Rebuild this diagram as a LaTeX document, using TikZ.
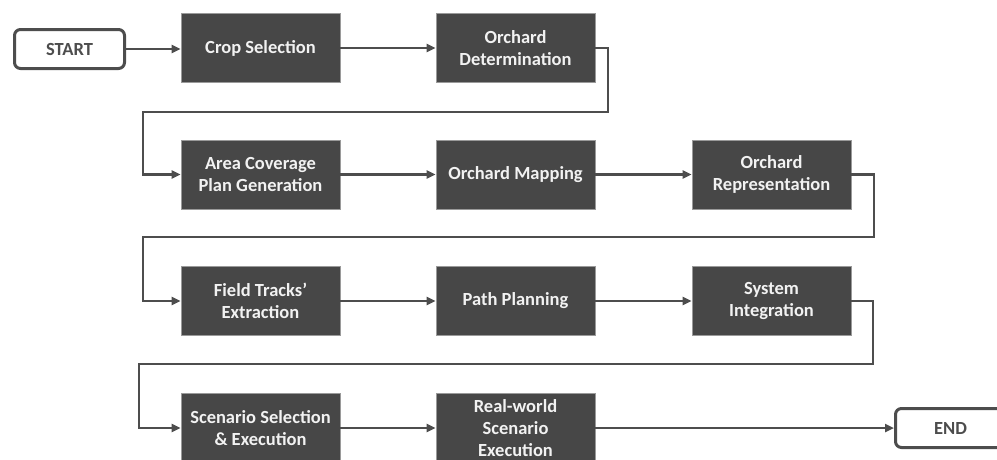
\documentclass[tikz,border=0pt]{standalone}
\usepackage{fontspec}
\setmainfont{Carlito}
\usetikzlibrary{arrows.meta}
\definecolor{boxfill}{HTML}{474747}
\definecolor{boxedge}{HTML}{9A9A9A}
\definecolor{linecol}{HTML}{4D4D4D}
\definecolor{boxtext}{HTML}{F2F2F2}
\begin{document}
\begin{tikzpicture}[x=1pt,y=-1pt,
  stepbox/.style={draw=boxedge,line width=0.8pt,fill=boxfill,minimum width=159pt,minimum height=69pt,inner sep=2pt,text=boxtext,font=\fontsize{18.5}{21.7}\selectfont\bfseries,align=center},
  termbox/.style={draw=linecol,line width=3pt,rounded corners=6pt,fill=white,minimum width=110pt,minimum height=39pt,text=linecol,font=\fontsize{18.5}{21.7}\selectfont\bfseries},
  conn/.style={draw=linecol,line width=2.8pt,-{Triangle[length=9pt,width=8pt]}}]
\useasboundingbox (0,0) rectangle (997,459);
\begin{scope}
\clip (0,0) rectangle (997,459);
\node[termbox] (start) at (69.5,49) {START};
\node[stepbox] (crop) at (260.5,48) {Crop Selection};
\node[stepbox] (odet) at (515.5,48) {Orchard\\Determination};
\node[stepbox] (area) at (260.5,174.5) {Area Coverage\\Plan Generation};
\node[stepbox] (omap) at (515.5,174.5) {Orchard Mapping};
\node[stepbox] (orep) at (771.5,174.5) {Orchard\\Representation};
\node[stepbox] (field) at (260.5,301) {Field Tracks’\\Extraction};
\node[stepbox] (path) at (515.5,301) {Path Planning};
\node[stepbox] (sys) at (771.5,301) {System\\Integration};
\node[stepbox] (scen) at (260.5,428) {Scenario Selection\\\& Execution};
\node[stepbox] (real) at (515.5,428) {Real-world\\Scenario\\Execution};
\node[termbox] (end) at (950.5,428) {END};
\coordinate (a1) at (608,48);
\coordinate (a2) at (608,112);
\coordinate (a3) at (143,112);
\coordinate (b1) at (874,174.5);
\coordinate (b2) at (874,237);
\coordinate (b3) at (143,237);
\coordinate (c1) at (873,301);
\coordinate (c2) at (873,364);
\coordinate (c3) at (139,364);
\draw[conn] (start.east) -- (start.east -| crop.west);
\draw[conn] (crop) -- (odet);
\draw[conn] (odet.east) -- (a1) -- (a2) -- (a3) -- (a3 |- area.west) -- (area.west);
\draw[conn] (area) -- (omap);
\draw[conn] (omap) -- (orep);
\draw[conn] (orep.east) -- (b1) -- (b2) -- (b3) -- (b3 |- field.west) -- (field.west);
\draw[conn] (field) -- (path);
\draw[conn] (path) -- (sys);
\draw[conn] (sys.east) -- (c1) -- (c2) -- (c3) -- (c3 |- scen.west) -- (scen.west);
\draw[conn] (scen) -- (real);
\draw[conn] (real) -- (end);
\end{scope}
\end{tikzpicture}
\end{document}
